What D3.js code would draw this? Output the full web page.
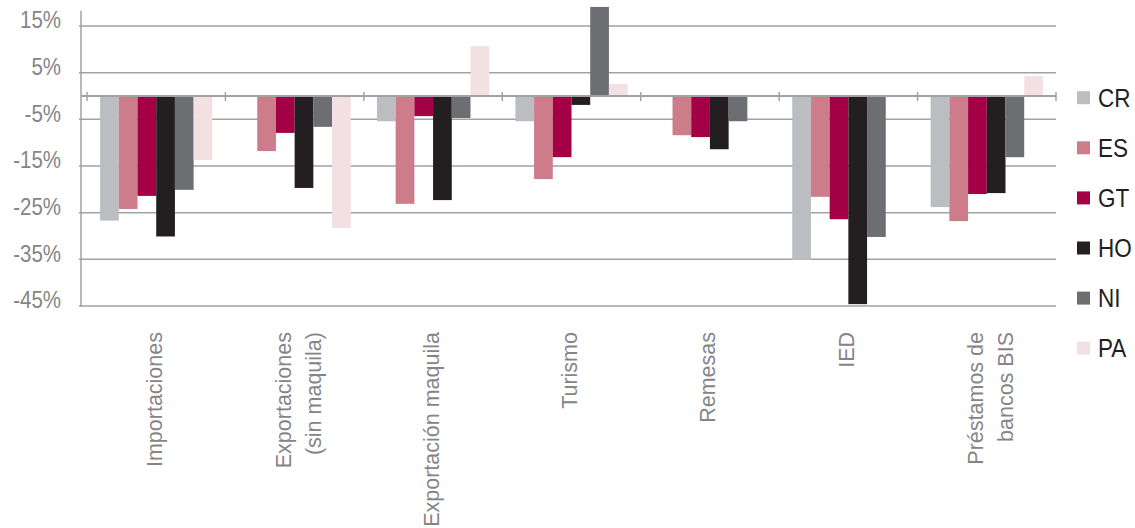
<!DOCTYPE html>
<html>
<head>
<meta charset="utf-8">
<script src="https://cdn.jsdelivr.net/npm/d3@7"></script>
<style>
    html, body { margin: 0; padding: 0; background: #fff; }
    svg { display: block; font-family: "Liberation Sans", Arial, sans-serif; }
</style>
</head>
<body>
<svg id="chart" width="1135" height="528"></svg>
<script>
// categorías (saltos de línea con \n)
const categories = [
    "Importaciones",
    "Exportaciones\n(sin maquila)",
    "Exportación maquila",
    "Turismo",
    "Remesas",
    "IED",
    "Préstamos de\nbancos BIS"
];
const countries = ["CR", "ES", "GT", "HO", "NI", "PA"];

// variación en %, null = sin dato
const CR = [-26.7, null, -5.4, -5.4, null, -35.1, -23.8];
const ES = [-24.2, -11.8, -23.1, -17.8, -8.4, -21.6, -26.8];
const GT = [-21.4, -7.9, -4.3, -13.1, -8.8, -26.4, -21.0];
const HO = [-30.1, -19.7, -22.3, -1.9, -11.4, -44.6, -20.8];
const NI = [-20.1, -6.6, -4.7, 19.1, -5.4, -30.2, -13.1];
const PA = [-13.7, -28.3, 10.7, 2.6, null, null, 4.3];

const yTicks = [15, 5, -5, -15, -25, -35, -45];

const colors = {
    CR: "#bcbdc1",
    ES: "#cd7d89",
    GT: "#a30045",
    HO: "#231f20",
    NI: "#6d6e72",
    PA: "#f3e0e3"
};

const seriesValues = { CR, ES, GT, HO, NI, PA };

const svg = d3.select("#chart");

const axisX = 81;
const plotRight = 1056;
const gridColor = "#a2a2a4";

const y = d3.scaleLinear().domain([-45, 19.3]).range([306, 6]);
const x0 = d3.scaleBand().domain(d3.range(categories.length)).range([87, plotRight]);
const x1 = d3.scaleBand().domain(countries).range([0, x0.bandwidth()]).paddingOuter(0.7);

// líneas de cuadrícula
svg.append("g")
    .selectAll("line")
    .data(yTicks)
    .enter()
    .append("line")
    .attr("x1", axisX - 2)
    .attr("x2", plotRight)
    .attr("y1", d => y(d))
    .attr("y2", d => y(d))
    .attr("stroke", gridColor)
    .attr("stroke-width", 1.5);

// etiquetas eje Y
svg.append("g")
    .selectAll("g")
    .data(yTicks)
    .enter()
    .append("g")
    .attr("transform", d => `translate(61,${y(d) - 5.5}) scale(0.89,1)`)
    .append("text")
    .attr("text-anchor", "end")
    .attr("dominant-baseline", "central")
    .attr("font-size", "23px")
    .attr("fill", "#858587")
    .text(d => d + "%");

// barras
const rows = [];
categories.forEach((c, i) => {
    countries.forEach(k => {
        const v = seriesValues[k][i];
        if (v !== null) rows.push({ cat: i, country: k, value: v });
    });
});

svg.append("g")
    .selectAll("rect")
    .data(rows)
    .enter()
    .append("rect")
    .attr("x", d => x0(d.cat) + x1(d.country))
    .attr("width", x1.bandwidth())
    .attr("y", d => y(Math.max(0, d.value)))
    .attr("height", d => Math.abs(y(d.value) - y(0)))
    .attr("fill", d => colors[d.country]);

// eje Y (línea vertical)
svg.append("line")
    .attr("x1", axisX)
    .attr("x2", axisX)
    .attr("y1", y(18.3))
    .attr("y2", y(-45) + 1)
    .attr("stroke", gridColor)
    .attr("stroke-width", 1.5);

// eje de categorías en 0
svg.append("line")
    .attr("x1", axisX)
    .attr("x2", plotRight)
    .attr("y1", y(0))
    .attr("y2", y(0))
    .attr("stroke", gridColor)
    .attr("stroke-width", 2);

const bounds = d3.range(categories.length).map(i => x0(i)).concat([x0.range()[1]]);
svg.append("g")
    .selectAll("line")
    .data(bounds)
    .enter()
    .append("line")
    .attr("x1", d => d)
    .attr("x2", d => d)
    .attr("y1", y(0) - 4)
    .attr("y2", y(0) + 5)
    .attr("stroke", gridColor)
    .attr("stroke-width", 1.5);

// etiquetas de categorías (rotadas)
const labelTop = 332;
categories.forEach((c, i) => {
    const lines = c.split("\n");
    const cx = x0(i) + x0.bandwidth() / 2;
    lines.forEach((t, j) => {
        const off = lines.length > 1 ? (j - (lines.length - 1) / 2) * 30 + 4 : -2;
        svg.append("text")
            .attr("transform", `translate(${cx + off},${labelTop}) rotate(-90)`)
            .attr("text-anchor", "end")
            .attr("dy", "0.35em")
            .attr("font-size", "21.5px")
            .attr("fill", "#858587")
            .text(t);
    });
});

// leyenda
const legend = svg.append("g")
    .selectAll("g")
    .data(countries)
    .enter()
    .append("g")
    .attr("transform", (d, i) => `translate(1077,${97.7 + i * 50.1})`);

legend.append("rect")
    .attr("x", 0)
    .attr("y", -6.5)
    .attr("width", 13)
    .attr("height", 13)
    .attr("fill", d => colors[d]);

legend.append("g")
    .attr("transform", "translate(21,0) scale(0.9,1)")
    .append("text")
    .attr("dominant-baseline", "central")
    .attr("font-size", "25px")
    .attr("fill", "#231f20")
    .text(d => d);
</script>
</body>
</html>
